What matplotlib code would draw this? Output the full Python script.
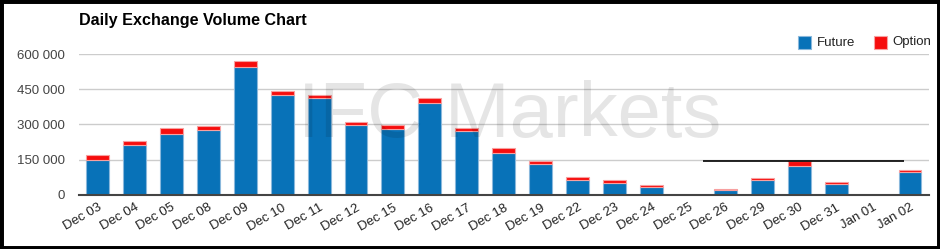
import matplotlib
matplotlib.use("Agg")
import matplotlib.pyplot as plt
from matplotlib.patches import Rectangle
import numpy as np

dates = ["Dec 03", "Dec 04", "Dec 05", "Dec 08", "Dec 09", "Dec 10", "Dec 11",
         "Dec 12", "Dec 15", "Dec 16", "Dec 17", "Dec 18", "Dec 19", "Dec 22",
         "Dec 23", "Dec 24", "Dec 25", "Dec 26", "Dec 29", "Dec 30", "Dec 31",
         "Jan 01", "Jan 02"]
future = [148000, 213000, 259000, 274000, 543000, 425000, 414000,
          296000, 279000, 392000, 270000, 179000, 130000, 64000,
          52000, 34000, 0, 18000, 63000, 124000, 46000, 0, 95000]
option = [21000, 16000, 27000, 19000, 27000, 17000, 12000,
          13000, 18000, 22000, 16000, 19000, 14000, 11000,
          10000, 7000, 0, 7000, 8000, 20000, 8000, 0, 12000]
yticks = [0, 150000, 300000, 450000, 600000]
ytick_labels = ["0", "150 000", "300 000", "450 000", "600 000"]

plt.rcParams['font.family'] = ['Liberation Sans', 'DejaVu Sans']

W, H = 940, 249
fig = plt.figure(figsize=(W / 100, H / 100), dpi=100)
fig.patch.set_facecolor("white")

ax = fig.add_axes([79 / W, 1 - 194.7 / H, (928.5 - 79) / W, (194.7 - 54) / H])
x = np.arange(len(dates))
blue = "#0872b8"
red = "#f60d0d"
ax.bar(x, future, width=0.62, color=blue, edgecolor="#8ab8dc", linewidth=0.8, zorder=3)
ax.bar(x, option, width=0.62, bottom=future, color=red, edgecolor="#f7a0a0",
       linewidth=0.8, zorder=3)

ax.set_xlim(-0.5, len(dates) - 0.5)
ax.set_ylim(0, 600000)
ax.set_yticks(yticks)
ax.set_yticklabels(ytick_labels)
ax.set_xticks(x)
ax.set_xticklabels(dates, rotation=30, ha="right", va="top", rotation_mode="anchor")
ax.tick_params(axis="both", length=0, colors="#222222", labelsize=9.5)
ax.tick_params(axis="y", pad=10, colors="#444444")
ax.tick_params(axis="x", pad=5)
ax.grid(axis="y", color="#cccccc", linewidth=1, zorder=0)
ax.set_axisbelow(True)
for s in ["top", "right", "left"]:
    ax.spines[s].set_visible(False)
ax.spines["bottom"].set_color("#444444")
ax.spines["bottom"].set_linewidth(1.5)
ax.spines["bottom"].set_zorder(4)

# stray horizontal line seen in the reference
ax.hlines(145000, 16.4, 21.84, color="black", linewidth=1.2, zorder=5)

# watermark
fig.text(510 / W, 1 - 137 / H, "IFC Markets", fontsize=56, color="black", alpha=0.1,
         ha="center", va="baseline", zorder=10)

# title
fig.text(79 / W, 1 - 20 / H, "Daily Exchange Volume Chart", fontsize=11.6,
         fontweight="bold", ha="left", va="center")

# legend
fig.patches.append(Rectangle((798 / W, 1 - 49 / H), 13 / W, 13 / H, transform=fig.transFigure,
                             facecolor=blue, edgecolor="#8ab8dc", linewidth=0.8))
fig.text(817 / W, 1 - 42.5 / H, "Future", fontsize=9.5, ha="left", va="center", color="#222222")
fig.patches.append(Rectangle((874 / W, 1 - 49 / H), 13 / W, 13 / H, transform=fig.transFigure,
                             facecolor=red, edgecolor="#f7a0a0", linewidth=0.8))
fig.text(892 / W, 1 - 42.5 / H, "Option", fontsize=9.5, ha="left", va="center", color="#222222")

# border
fig.patches.append(Rectangle((0, 0), 1, 1, transform=fig.transFigure, fill=False,
                             edgecolor="black", linewidth=5))

fig.savefig("out.png", dpi=100)
